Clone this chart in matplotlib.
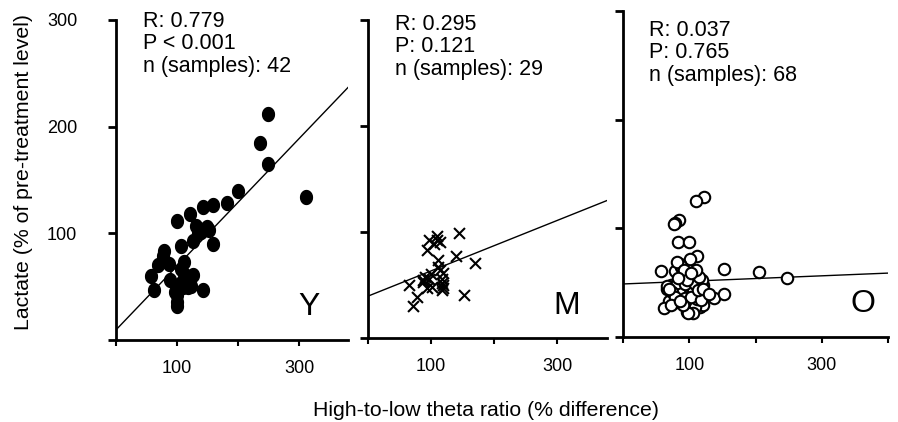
import numpy as np
import matplotlib.pyplot as plt
from matplotlib.path import Path

plt.rcParams['font.family'] = ['Liberation Sans', 'DejaVu Sans']

# ---- data ----
young_x = [249, 236, 249, 312, 200, 181, 159, 142, 121, 100, 131, 149, 153, 139,
           126, 159, 107, 79, 77, 68, 86, 112, 107, 57, 89, 126, 115, 123, 109,
           101, 63, 142, 100, 100, 100, 118, 107, 145, 134, 97, 118, 112]
young_y = [212, 185, 165, 134, 140, 128, 127, 125, 118, 112, 107, 106, 103, 101,
           93, 90, 88, 83, 79, 70, 71, 73, 67, 60, 56, 61, 54, 51, 50,
           47, 47, 47, 42, 36, 32, 59, 53, 104, 100, 45, 50, 62]

mid_x = [144, 109, 96, 114, 104, 93, 139, 111, 169, 114, 119, 91, 96, 118, 88,
         65, 118, 119, 93, 117, 152, 78, 72, 87, 111, 109, 102, 119, 100]
mid_y = [99, 96, 92, 91, 89, 83, 77, 74, 71, 64, 61, 58, 56, 56, 53,
         50, 52, 47, 47, 45, 41, 39, 30, 55, 67, 92, 48, 50, 60]

old_x = [122, 110, 84, 78, 77, 83, 99, 112, 101, 86, 57, 78, 88, 110, 153, 205,
         248, 93, 111, 73, 86, 101, 112, 121, 66, 85, 106, 124, 138, 152, 70,
         80, 93, 62, 97, 103, 116, 121, 96, 101, 108, 66, 81, 93, 108, 119,
         115, 88, 82, 92, 96, 74, 111, 103, 78, 118, 73, 106, 98, 91, 86, 113,
         120, 130, 110, 102, 70, 83]
old_y = [129, 125, 108, 105, 104, 87, 87, 75, 72, 67, 61, 61, 64, 57, 63, 60,
         54, 55, 52, 48, 47, 47, 46, 48, 44, 42, 44, 38, 36, 40, 33,
         32, 36, 27, 27, 30, 28, 29, 23, 25, 28, 47, 50, 49, 49, 52,
         55, 65, 69, 62, 52, 41, 35, 37, 37, 34, 29, 22, 22, 29, 33, 43,
         44, 40, 62, 59, 44, 54]

# regression lines (intercept, slope) as drawn
fits = [(9.5, 0.598), (39.5, 0.238), (48.8, 0.025)]
stats = ["R: 0.779\nP < 0.001\nn (samples): 42",
         "R: 0.295\nP: 0.121\nn (samples): 29",
         "R: 0.037\nP: 0.765\nn (samples): 68"]
groups = ["Y", "M", "O"]
group_xpos = [0.83, 0.833, 0.906]
xmax = [380, 379, 400]

# slightly tall ellipse marker for the filled dots
t = np.linspace(0, 2 * np.pi, 40)
ellipse = Path(np.column_stack([0.85 * np.cos(t), np.sin(t)]), closed=True)

fig = plt.figure(figsize=(8.98, 4.22), dpi=100)
W, H = 898, 422
boxes = [(116, 348, 20, 340), (368, 607, 20, 338), (623, 888, 11, 337)]
axes = []
for (l, r, top, bot) in boxes:
    axes.append(fig.add_axes([l / W, 1 - bot / H, (r - l) / W, (bot - top) / H]))

datasets = [(young_x, young_y), (mid_x, mid_y), (old_x, old_y)]
for i, ax in enumerate(axes):
    x, y = datasets[i]
    if i == 0:
        ax.scatter(x, y, s=100, marker=ellipse, color='black', zorder=3)
    elif i == 1:
        ax.scatter(x, y, s=62, marker='x', color='black', linewidths=1.5, zorder=3)
    else:
        ax.scatter(x, y, s=68, marker='o', facecolors='white', edgecolors='black',
                   linewidths=1.5, zorder=3)
    b, m = fits[i]
    xs = np.array([0, xmax[i]])
    ax.plot(xs, b + m * xs, color='black', lw=1)

    ax.set_xlim(0, xmax[i])
    ax.set_ylim(0, 300)
    for s in ['top', 'right']:
        ax.spines[s].set_visible(False)
    for s in ['left', 'bottom']:
        ax.spines[s].set_linewidth(2)
    xt = [0, 100, 200, 300] + ([400] if i == 2 else [])
    ax.set_xticks(xt, ['', '100', '', '300'] + ([''] if i == 2 else []))
    if i == 0:
        ax.set_yticks([0, 100, 200, 300], ['', '100', '200', '300'])
    else:
        ax.set_yticks([0, 100, 200, 300], ['', '', '', ''])
    ax.tick_params(axis='y', length=6, width=2, pad=22, labelsize=13, color='black')
    ax.tick_params(axis='x', length=4.5, width=1.5, pad=10, labelsize=13)

    ax.text(group_xpos[i], 0.055, groups[i], transform=ax.transAxes, fontsize=23,
            ha='center', va='bottom')

text_pos = [(143, 11), (395, 14), (649, 20)]
for (px, py), s in zip(text_pos, stats):
    fig.text(px / W, 1 - py / H, s, fontsize=15.5, ha='left', va='top', linespacing=1.08)

fig.text(24 / W, 1 - 172 / H, "Lactate (% of pre-treatment level)", rotation=90,
         fontsize=15.3, ha='center', va='center')
fig.text(486 / W, 1 - 410 / H, "High-to-low theta ratio (% difference)",
         fontsize=15.3, ha='center', va='center')

fig.savefig("out.png", dpi=100)
